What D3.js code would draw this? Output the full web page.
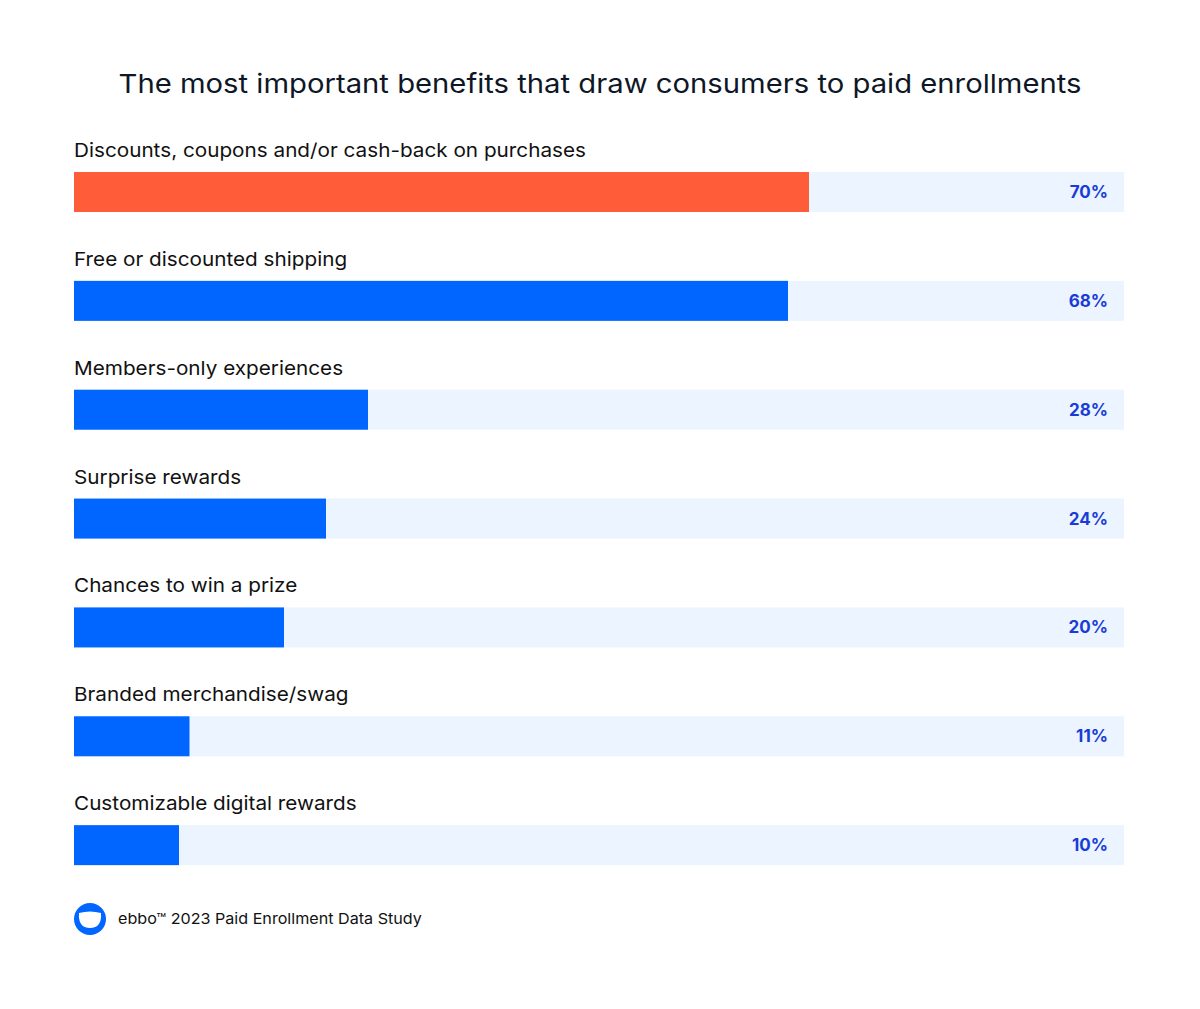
<!DOCTYPE html>
<html><head><meta charset="utf-8">
<script src="https://cdn.jsdelivr.net/npm/d3@7"></script>
<style>body{margin:0;background:#fff}svg{display:block}</style>
</head><body>
<svg id="chart" width="1200" height="1009"></svg>
<script>
const categories = ["Discounts, coupons and/or cash-back on purchases","Free or discounted shipping","Members-only experiences","Surprise rewards","Chances to win a prize","Branded merchandise/swag","Customizable digital rewards"];
const values = [70,68,28,24,20,11,10];
const highlight = [true,false,false,false,false,false,false];
const title = "The most important benefits that draw consumers to paid enrollments";
const footer = "ebbo\u2122 2023 Paid Enrollment Data Study";

const svg = d3.select("#chart");
svg.append("rect").attr("width",1200).attr("height",1009).attr("fill","#fff");
const font = "Inter, 'DejaVu Sans', sans-serif";

const x = d3.scaleLinear().domain([0,100]).range([74,1124]);
const y = d3.scaleBand().domain(categories).range([172,934]).paddingInner(0).paddingOuter(0);
const barH = 40;

svg.append("text").attr("x",600).attr("y",93).attr("text-anchor","middle")
  .attr("font-family",font).attr("font-size",26).attr("fill","#0e1726")
  .attr("textLength",963).attr("lengthAdjust","spacingAndGlyphs").text(title);

const g = svg.append("g");
const rows = g.selectAll("g.row").data(categories).join("g").attr("class","row");
rows.append("rect").attr("x",x(0)).attr("y",d=>y(d)).attr("width",x(100)-x(0)).attr("height",barH).attr("fill","#ebf4ff");
rows.append("rect").attr("x",x(0)).attr("y",d=>y(d)).attr("width",(d,i)=>x(values[i])-x(0)).attr("height",barH)
  .attr("fill",(d,i)=>highlight[i]?"#ff5c39":"#0066ff");
rows.append("text").attr("x",x(0)).attr("y",d=>y(d)-15).attr("font-family",font).attr("font-size",19)
  .attr("fill","#111").text(d=>d)
  .each(function(){ const w=this.getComputedTextLength(); d3.select(this).attr("textLength",w*1.09).attr("lengthAdjust","spacingAndGlyphs"); });
rows.append("text").attr("x",1108).attr("y",d=>y(d)+barH/2+6).attr("text-anchor","end")
  .attr("font-family",font).attr("font-size",17).attr("font-weight",700).attr("fill","#1a3cd6")
  .text((d,i)=>values[i]+"%");

// logo
const lg = svg.append("g").attr("transform","translate(90,919)");
lg.append("circle").attr("r",16).attr("fill","#0066ff");
lg.append("path").attr("d","M-11,-6 Q0,-9 11,-6 Q12,9 0,9 Q-12,9 -11,-6 Z").attr("fill","#fff");

svg.append("text").attr("x",118).attr("y",924).attr("font-family",font).attr("font-size",15)
  .attr("fill","#111").text(footer)
  .each(function(){ const w=this.getComputedTextLength(); d3.select(this).attr("textLength",w*1.075).attr("lengthAdjust","spacingAndGlyphs"); });
</script>
</body></html>
